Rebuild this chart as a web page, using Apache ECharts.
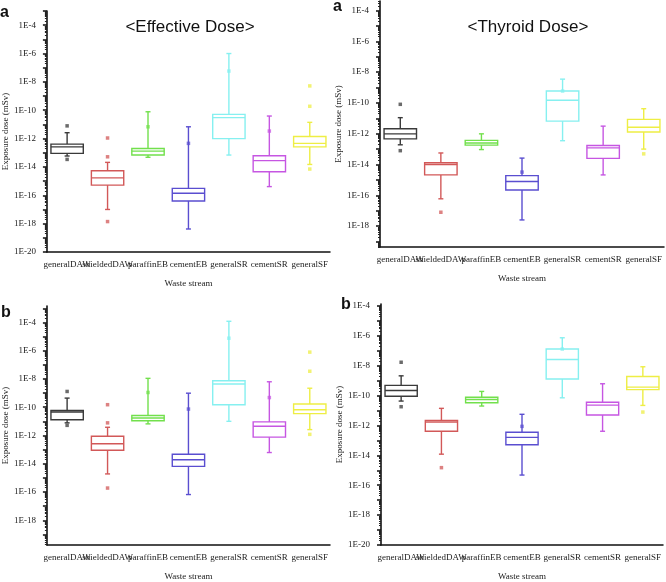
<!DOCTYPE html>
<html>
<head>
<meta charset="utf-8">
<script src="https://cdn.jsdelivr.net/npm/echarts@6/dist/echarts.min.js"></script>
<style>
  html, body { margin: 0; padding: 0; background: #fff; }
  #chart { width: 666px; height: 582px; }
</style>
</head>
<body>
<div id="chart"></div>
<script>
const categories = ["generalDAW", "shieldedDAW", "paraffinEB", "cementEB", "generalSR", "cementSR", "generalSF"];
const colors = ["#3a3a3a", "#d25858", "#72e04c", "#5a4ed0", "#86f0f0", "#c656e2", "#eeee44"];
const tickLabels = [1e-4, 1e-6, 1e-8, 1e-10, 1e-12, 1e-14, 1e-16, 1e-18, 1e-20];

// box rows: [min, Q1, median, Q3, max]
const effectiveA = [
  [5.9e-14, 9.1e-14, 2.6e-13, 4.1e-13, 2.6e-12],
  [1.0e-17, 5.2e-16, 1.7e-15, 5.4e-15, 2.1e-14],
  [4.8e-14, 6.9e-14, 1.3e-13, 2.0e-13, 7.8e-11],
  [4.2e-19, 4.0e-17, 1.4e-16, 3.1e-16, 6.8e-12],
  [6.9e-14, 1.0e-12, 3.0e-11, 5.1e-11, 1.0e-6],
  [4.1e-16, 4.6e-15, 2.8e-14, 6.2e-14, 3.9e-11],
  [1.5e-14, 2.6e-13, 4.6e-13, 1.4e-12, 1.4e-11]
];
// extra markers: [category index, value]
const effectiveAPoints = [
  [0, 7.9e-12], [0, 3.4e-14], [1, 1.1e-12], [1, 5.2e-14], [1, 1.4e-18],
  [2, 6.8e-12], [3, 4.6e-13], [4, 5.8e-8], [5, 3.4e-12],
  [6, 5.2e-9], [6, 1.9e-10], [6, 7.1e-15]
];

const thyroidA = [
  [1.9e-13, 4.6e-13, 9.8e-13, 2.1e-12, 1.1e-11],
  [5.9e-17, 2.1e-15, 1.0e-14, 1.3e-14, 5.6e-14],
  [9.3e-14, 1.8e-13, 2.5e-13, 3.7e-13, 9.8e-13],
  [2.5e-18, 2.2e-16, 7.9e-16, 1.9e-15, 2.6e-14],
  [3.5e-13, 6.6e-12, 1.5e-10, 5.9e-10, 3.5e-9],
  [2.1e-15, 2.5e-14, 1.2e-13, 1.7e-13, 3.1e-12],
  [1.0e-13, 1.3e-12, 2.6e-12, 8.5e-12, 4.2e-11]
];
const thyroidAPoints = [
  [0, 8.1e-11], [0, 7.9e-14], [1, 7.9e-18], [3, 3.2e-15],
  [4, 5.9e-10], [6, 4.9e-14]
];

const effectiveB = [
  [7.8e-12, 1.3e-11, 4.6e-11, 5.9e-11, 4.4e-10],
  [1.9e-15, 8.9e-14, 2.6e-13, 8.9e-13, 3.8e-12],
  [6.6e-12, 1.1e-11, 1.7e-11, 2.6e-11, 1.1e-8],
  [6.6e-17, 6.5e-15, 1.9e-14, 4.7e-14, 9.8e-10],
  [1.0e-11, 1.5e-10, 4.4e-9, 7.4e-9, 1.2e-4],
  [6.2e-14, 7.6e-13, 4.5e-12, 9.1e-12, 6.3e-9],
  [2.6e-12, 3.5e-11, 6.6e-11, 1.7e-10, 2.2e-9]
];
const effectiveBPoints = [
  [0, 1.3e-9], [0, 5.2e-12], [1, 1.5e-10], [1, 7.8e-12], [1, 1.9e-16],
  [2, 1.1e-9], [3, 7.4e-11], [4, 7.6e-6], [5, 4.8e-10],
  [6, 7.9e-7], [6, 3.5e-8], [6, 1.2e-12]
];

const thyroidB = [
  [4.3e-11, 9.1e-11, 2.2e-10, 4.8e-10, 2.1e-9],
  [1.2e-14, 4.1e-13, 1.7e-12, 2.2e-12, 1.4e-11],
  [2.0e-11, 3.3e-11, 5.5e-11, 7.8e-11, 1.9e-10],
  [4.8e-16, 5.1e-14, 1.6e-13, 3.5e-13, 5.6e-12],
  [7.1e-11, 1.3e-9, 2.6e-8, 1.3e-7, 7.4e-7],
  [4.1e-13, 5.0e-12, 2.3e-11, 3.6e-11, 6.2e-10],
  [2.2e-11, 2.5e-10, 3.7e-10, 1.9e-9, 8.5e-9]
];
const thyroidBPoints = [
  [0, 1.7e-8], [0, 1.8e-11], [1, 1.5e-15], [3, 8.7e-13],
  [4, 1.3e-7], [6, 7.9e-12]
];

const panels = [
  { box: effectiveA, points: effectiveAPoints, grid: { left: 41, top: 11, width: 289, height: 241 }, range: [-20, -3] },
  { box: thyroidA, points: thyroidAPoints, grid: { left: 380, top: 1, width: 284, height: 246 }, range: [-19.36, -3.38] },
  { box: effectiveB, points: effectiveBPoints, grid: { left: 41, top: 306, width: 289, height: 242 }, range: [-19.75, -2.84] },
  { box: thyroidB, points: thyroidBPoints, grid: { left: 381, top: 304, width: 282, height: 245 }, range: [-20, -3.87] }
];

const serif = "'Liberation Serif', 'DejaVu Serif', serif";
const sans = "'Liberation Sans', Arial, sans-serif";

const minorTicks = [];
for (let k = -21; k <= -2; k++) {
  for (let m = 2; m <= 9; m++) minorTicks.push(m * Math.pow(10, k));
}
const majorTicks = [];
for (let k = -20; k <= -2; k++) majorTicks.push(Math.pow(10, k));

function renderBox(params, api) {
  const i = api.value(0);
  const c = colors[i];
  const pMin = api.coord([i, api.value(1)]);
  const pQ1 = api.coord([i, api.value(2)]);
  const pMed = api.coord([i, api.value(3)]);
  const pQ3 = api.coord([i, api.value(4)]);
  const pMax = api.coord([i, api.value(5)]);
  const x = pMed[0];
  const half = api.size([1, 1])[0] * 0.4;
  const style = { stroke: c, lineWidth: 1.4, fill: null };
  const line = (x1, y1, x2, y2) => ({ type: "line", shape: { x1, y1, x2, y2 }, style });
  return {
    type: "group",
    children: [
      { type: "rect", shape: { x: x - half, y: pQ3[1], width: half * 2, height: pQ1[1] - pQ3[1] }, style },
      line(x - half, pMed[1], x + half, pMed[1]),
      line(x, pQ3[1], x, pMax[1]),
      line(x, pQ1[1], x, pMin[1]),
      line(x - 2.5, pMax[1], x + 2.5, pMax[1]),
      line(x - 2.5, pMin[1], x + 2.5, pMin[1])
    ]
  };
}

const grids = [], xAxes = [], yAxes = [], minorAxes = [], series = [];
panels.forEach((p, idx) => {
  grids.push(p.grid);
  xAxes.push({
    type: "category",
    gridIndex: idx,
    data: categories,
    name: "Waste stream",
    nameLocation: "middle",
    nameGap: 27,
    nameTextStyle: { fontFamily: serif, fontSize: 9, color: "#222" },
    axisLine: { lineStyle: { color: "#111", width: 1.5 } },
    axisTick: { alignWithLabel: true, length: 4, lineStyle: { color: "#111", width: 1.5 } },
    axisLabel: { interval: 0, margin: 8, fontFamily: serif, fontSize: 9, color: "#222" },
    splitLine: { show: false }
  });
  const yBase = {
    type: "log",
    logBase: 10,
    gridIndex: idx,
    position: "left",
    min: Math.pow(10, p.range[0]),
    max: Math.pow(10, p.range[1]),
    splitLine: { show: false }
  };
  yAxes.push(Object.assign({}, yBase, {
    name: "Exposure dose (mSv)",
    nameLocation: "middle",
    nameGap: 35,
    nameTextStyle: { fontFamily: serif, fontSize: 9, color: "#222" },
    axisLine: { show: true, lineStyle: { color: "#111", width: 1.6 } },
    axisTick: { show: true, length: 4, customValues: majorTicks, lineStyle: { color: "#111", width: 1.5 } },
    axisLabel: {
      customValues: tickLabels,
      margin: 11,
      fontFamily: serif,
      fontSize: 9,
      color: "#222",
      formatter: (v) => "1E" + Math.round(Math.log10(v))
    }
  }));
  minorAxes.push(Object.assign({}, yBase, {
    axisLine: { show: false },
    axisLabel: { show: false },
    axisTick: { show: true, length: 2, customValues: minorTicks, lineStyle: { color: "#222", width: 1 } }
  }));
  series.push({
    type: "custom",
    xAxisIndex: idx,
    yAxisIndex: idx,
    renderItem: renderBox,
    encode: { x: 0, y: [1, 2, 3, 4, 5] },
    data: p.box.map((row, i) => [i].concat(row)),
    z: 3
  });
  series.push({
    type: "scatter",
    xAxisIndex: idx,
    yAxisIndex: idx,
    symbol: "rect",
    symbolSize: 3.5,
    itemStyle: { color: (d) => colors[d.value[0]], opacity: 0.75 },
    data: p.points,
    z: 4
  });
});

const chart = echarts.init(document.getElementById("chart"));
chart.setOption({
  backgroundColor: "#fff",
  animation: false,
  title: [
    { text: "<Effective Dose>", left: 185, top: 14, textAlign: "center", textStyle: { fontFamily: sans, fontSize: 17, fontWeight: "normal", color: "#111" } },
    { text: "<Thyroid Dose>", left: 523, top: 14, textAlign: "center", textStyle: { fontFamily: sans, fontSize: 17, fontWeight: "normal", color: "#111" } },
    { text: "a", left: 0, top: 5, padding: 0, textStyle: { fontFamily: sans, fontSize: 16, fontWeight: "bold", color: "#111" } },
    { text: "a", left: 333, top: -1, padding: 0, textStyle: { fontFamily: sans, fontSize: 16, fontWeight: "bold", color: "#111" } },
    { text: "b", left: 1, top: 305, padding: 0, textStyle: { fontFamily: sans, fontSize: 16, fontWeight: "bold", color: "#111" } },
    { text: "b", left: 341, top: 297, padding: 0, textStyle: { fontFamily: sans, fontSize: 16, fontWeight: "bold", color: "#111" } }
  ],
  grid: grids,
  xAxis: xAxes,
  yAxis: yAxes.concat(minorAxes),
  series: series
});
</script>
</body>
</html>
